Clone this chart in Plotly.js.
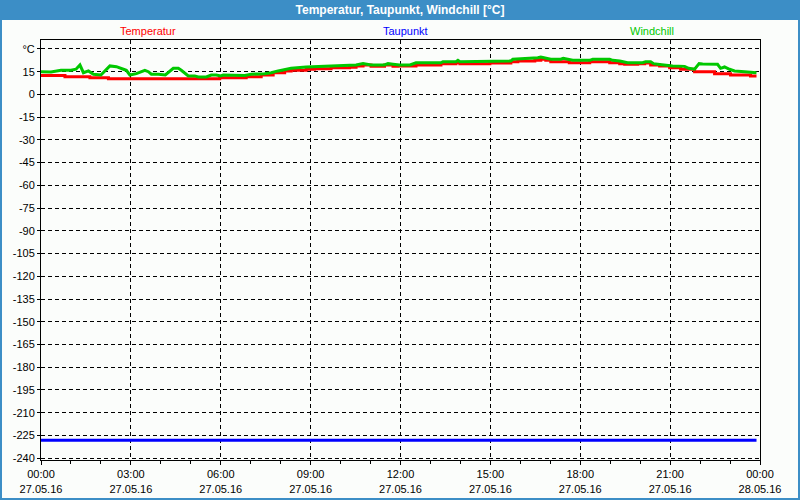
<!DOCTYPE html>
<html>
<head>
<meta charset="utf-8">
<script src="https://cdn.plot.ly/plotly-3.0.1.min.js"></script>
<style>
html,body{margin:0;padding:0;background:#fbfdfb;}
#chart{width:800px;height:500px;}
</style>
</head>
<body>
<div id="chart"></div>
<script>
var day = '2016-05-27';
var seriesNames = ['Temperatur', 'Taupunkt', 'Windchill'];
var seriesColors = ['#ff0000', '#0000ff', '#00c800'];

var tempTimes = ['00:00','00:48','01:38','02:15','05:58','06:51','07:21','07:45','08:08','08:21','08:51','09:08','09:41','10:18','10:31','10:45','11:01','11:28','11:45','11:55','12:31','13:21','13:51','13:59','14:59','15:41','15:55','16:29','16:41','16:51','17:01','17:38','18:19','18:59','19:19','19:29','19:55','20:09','20:21','20:39','20:59','21:21','21:49','22:29','23:01','23:41','23:53'];
var tempValues = [12.4,11.7,11.0,10.4,11.0,11.7,12.8,14.3,15.5,15.9,16.6,17.0,17.6,18.0,18.8,19.4,18.6,19.4,18.6,18.8,19.4,20.3,20.9,20.3,20.7,21.6,22.1,22.5,23.2,22.5,21.6,20.9,21.6,20.9,20.3,19.9,20.3,20.7,19.4,18.8,17.6,16.6,15.0,13.7,12.8,12.2,12.2];

var dewTimes = ['00:00','23:53'];
var dewValues = [-228.2,-228.2];

var chillTimes = ['00:00','00:20','00:40','01:00','01:10','01:18','01:25','01:35','01:45','02:00','02:18','02:31','02:45','02:51','02:58','03:11','03:28','03:35','03:41','03:55','04:09','04:15','04:25','04:35','04:41','04:55','05:08','05:15','05:31','05:41','05:51','06:00','06:05','06:48','07:01','07:28','07:41','07:55','08:08','08:21','08:51','09:41','10:18','10:31','10:45','11:01','11:28','11:35','11:45','11:58','12:19','12:25','12:31','13:21','13:25','13:51','13:55','13:59','14:59','15:03','15:41','15:45','15:59','16:15','16:29','16:35','16:41','16:51','17:01','17:21','17:26','17:35','17:45','18:19','18:25','18:59','19:05','19:19','19:25','19:35','20:05','20:11','20:21','20:27','20:39','20:50','21:05','21:29','21:37','21:49','21:58','22:05','22:35','22:41','22:49','22:59','23:09','23:29','23:45','23:53'];
var chillValues = [15.0,14.8,15.9,15.9,16.6,19.4,14.3,15.5,13.3,12.8,18.8,18.3,16.6,15.9,12.8,13.7,15.9,15.0,13.3,13.3,12.8,14.3,17.2,17.2,15.9,12.2,12.2,11.5,11.5,12.8,12.8,12.2,12.8,12.5,13.3,13.7,14.3,15.5,16.6,17.2,18.1,18.6,19.0,19.4,20.3,19.4,19.4,20.3,19.9,19.4,19.4,20.3,20.9,20.9,21.6,21.6,22.5,21.6,21.6,22.1,22.1,23.2,23.5,23.8,23.8,24.2,24.7,23.8,23.2,23.2,23.8,23.2,22.5,22.5,23.2,23.2,22.5,22.0,21.6,20.9,20.9,21.6,21.6,20.3,19.8,19.4,18.8,18.5,17.2,16.6,20.3,20.0,19.9,17.2,18.1,16.6,15.5,15.0,14.3,14.3];

var xTickHours = ['00:00','03:00','06:00','09:00','12:00','15:00','18:00','21:00','00:00'];
var xTickDates = ['27.05.16','27.05.16','27.05.16','27.05.16','27.05.16','27.05.16','27.05.16','27.05.16','28.05.16'];
var yTickValues = [30,15,0,-15,-30,-45,-60,-75,-90,-105,-120,-135,-150,-165,-180,-195,-210,-225,-240];
var yTickLabels = ['°C','15','0','-15','-30','-45','-60','-75','-90','-105','-120','-135','-150','-165','-180','-195','-210','-225','-240'];

function toDate(t){ return day + ' ' + t; }
var xTickVals = xTickHours.map(function(h,i){ return (i === xTickHours.length-1 ? '2016-05-28' : day) + ' ' + h; });
var xTickText = xTickHours.map(function(h,i){ return h + '<br>' + xTickDates[i]; });

var traces = [
  {x: tempTimes.map(toDate), y: tempValues, name: seriesNames[0], mode: 'lines', line: {color: seriesColors[0], width: 3, shape: 'hv'}},
  {x: dewTimes.map(toDate), y: dewValues, name: seriesNames[1], mode: 'lines', line: {color: seriesColors[1], width: 3}},
  {x: chillTimes.map(toDate), y: chillValues, name: seriesNames[2], mode: 'lines', line: {color: seriesColors[2], width: 3}}
];

// pixel helpers for paper coordinates (plot area 41..760 x 40..460)
var L = 41, R = 40, T = 40, B = 40, W = 800, H = 500;
var pw = W - L - R, ph = H - T - B;
function px(x){ return (x - L) / pw; }
function py(y){ return (H - B - y) / ph; }

var blue = '#3c8ec6';
var font = 'Liberation Sans, Arial, sans-serif';

var layout = {
  width: W, height: H,
  margin: {l: L, r: R, t: T, b: B},
  paper_bgcolor: '#fbfdfb',
  plot_bgcolor: '#fbfdfb',
  showlegend: false,
  font: {family: font, size: 11, color: '#000'},
  title: {text: 'Temperatur, Taupunkt, Windchill [°C]', font: {family: font, size: 12, color: '#ffffff', weight: 'bold'}, x: 0.5, xref: 'container', y: 1 - 10/H, yref: 'container', yanchor: 'middle', xanchor: 'center'},
  xaxis: {
    type: 'date',
    range: ['2016-05-27 00:00', '2016-05-28 00:00'],
    tickmode: 'array', tickvals: xTickVals, ticktext: xTickText,
    ticks: 'outside', ticklen: 4, tickcolor: '#000',
    showgrid: true, gridcolor: '#000', gridwidth: 1, griddash: '4px,3px',
    showline: true, linecolor: '#000', linewidth: 1, mirror: true,
    zeroline: false,
    tickfont: {family: font, size: 11, color: '#000'},
    minor: {tickmode: 'linear', tick0: '2016-05-27 00:00', dtick: 3600000, ticks: 'outside', ticklen: 3, tickcolor: '#000', showgrid: false}
  },
  yaxis: {
    range: [-241.2, 35.9],
    tickmode: 'array', tickvals: yTickValues, ticktext: yTickLabels,
    ticks: 'outside', ticklen: 3, tickcolor: '#000',
    showgrid: true, gridcolor: '#000', gridwidth: 1, griddash: '4px,3px',
    showline: true, linecolor: '#000', linewidth: 1, mirror: true,
    zeroline: false,
    tickfont: {family: font, size: 11, color: '#000'}
  },
  shapes: [
    {type: 'rect', xref: 'paper', yref: 'paper', x0: px(0), x1: px(800), y0: py(20), y1: py(0), fillcolor: blue, line: {width: 0}, layer: 'below'},
    {type: 'rect', xref: 'paper', yref: 'paper', x0: px(0), x1: px(2), y0: py(500), y1: py(0), fillcolor: blue, line: {width: 0}, layer: 'below'},
    {type: 'rect', xref: 'paper', yref: 'paper', x0: px(798), x1: px(800), y0: py(500), y1: py(0), fillcolor: blue, line: {width: 0}, layer: 'below'},
    {type: 'rect', xref: 'paper', yref: 'paper', x0: px(0), x1: px(800), y0: py(500), y1: py(498), fillcolor: blue, line: {width: 0}, layer: 'below'}
  ],
  annotations: [
    {text: seriesNames[0], font: {family: font, size: 11, color: seriesColors[0]}, xref: 'paper', yref: 'paper', x: px(148), y: py(31), showarrow: false, xanchor: 'center', yanchor: 'middle'},
    {text: seriesNames[1], font: {family: font, size: 11, color: seriesColors[1]}, xref: 'paper', yref: 'paper', x: px(406), y: py(31), showarrow: false, xanchor: 'center', yanchor: 'middle'},
    {text: seriesNames[2], font: {family: font, size: 11, color: seriesColors[2]}, xref: 'paper', yref: 'paper', x: px(652), y: py(31), showarrow: false, xanchor: 'center', yanchor: 'middle'}
  ]
};

Plotly.newPlot('chart', traces, layout, {displayModeBar: false, staticPlot: true});
</script>
</body>
</html>
